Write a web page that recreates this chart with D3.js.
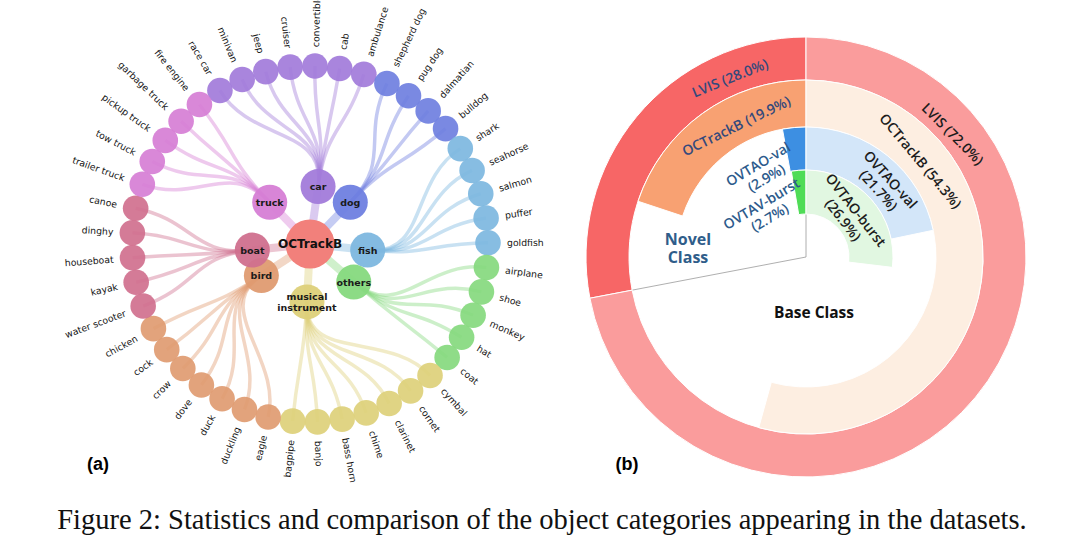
<!DOCTYPE html>
<html>
<head>
<meta charset="utf-8">
<script src="https://cdnjs.cloudflare.com/ajax/libs/d3/7.8.5/d3.min.js"></script>
<style>
  body { margin: 0; background: #fff; }
</style>
</head>
<body>
<div id="figure"></div>
<script>
// ---- data: panel (a) ----
const categories = ['car', 'dog', 'fish', 'others', 'musical instrument', 'bird', 'boat', 'truck'];
const carLeaves = ['race car', 'minivan', 'jeep', 'cruiser', 'convertible', 'cab', 'ambulance'];
const dogLeaves = ['shepherd dog', 'pug dog', 'dalmatian', 'bulldog'];
const fishLeaves = ['shark', 'seahorse', 'salmon', 'puffer', 'goldfish'];
const otherLeaves = ['airplane', 'shoe', 'monkey', 'hat', 'coat'];
const musicLeaves = ['cymbal', 'cornet', 'clarinet', 'chime', 'bass horn', 'banjo', 'bagpipe'];
const birdLeaves = ['eagle', 'duckling', 'duck', 'dove', 'crow', 'cock', 'chicken'];
const boatLeaves = ['water scooter', 'kayak', 'houseboat', 'dinghy', 'canoe'];
const truckLeaves = ['trailer truck', 'tow truck', 'pickup truck', 'garbage truck', 'fire engine'];
const leafLists = [carLeaves, dogLeaves, fishLeaves, otherLeaves, musicLeaves, birdLeaves, boatLeaves, truckLeaves];

// ---- data: panel (b) ----
const ringNames = ['LVIS', 'OCTrackB', 'OVTAO-val', 'OVTAO-burst'];
const novelNames = ['LVIS', 'OCTrackB', 'OVTAO-val', 'OVTAV-burst'];
const novelShare = [28.0, 19.9, 2.9, 2.7];
const baseShare = [72.0, 54.3, 21.7, 26.9];

// ---- layout / style ----
const catColor = {
  'car': '#a27bda', 'dog': '#6f7fe0', 'fish': '#7db7df', 'others': '#86d97e',
  'musical instrument': '#ddd079', 'bird': '#df9b71', 'boat': '#d0708e', 'truck': '#d67ed5'
};
const hubAngle = { 'car': 8, 'dog': 44, 'fish': 96, 'others': 131,
  'musical instrument': 183, 'bird': 237, 'boat': 264, 'truck': 316 };
const novelColor = ['#f76666', '#f8a172', '#3d8fe2', '#4fdc56'];
const baseColor = ['#fa9c9c', '#fdeee1', '#d3e6f9', '#e1f7e1'];
const ringRadii = [[177, 220], [130, 177], [87, 130], [43, 87]];
const novelLabelPos = [[-23, 195, -22], [-28, 149, -26], [-27, 97, -31], [-41, 62, -31]];
const baseLabelPos = [[50, 192, 45], [50, 150, 50], [47.5, 107, 48], [46, 61, 52]];

const width = 1080, height = 557;
const svg = d3.select('#figure').append('svg')
  .attr('width', width).attr('height', height);

const rad = (deg) => deg * Math.PI / 180;
const polar = (deg, r) => [r * Math.sin(rad(deg)), -r * Math.cos(rad(deg))];

// ================= panel (a) =================
const a = svg.append('g').attr('transform', 'translate(310,244)');
const R = 178, hubR = 58;

let leaves = [];
leafLists.forEach((list, ci) => list.forEach(name => leaves.push({ name: name, cat: categories[ci] })));
const angle = d3.scaleLinear().domain([0, leaves.length]).range([-30.4, 329.6]);
leaves.forEach((d, i) => { d.a = angle(i); });

const link = d3.linkRadial().angle(d => rad(d.a)).radius(d => d.r);

// center -> hub edges
a.append('g').selectAll('line').data(categories).join('line')
  .attr('x1', 0).attr('y1', 0)
  .attr('x2', d => polar(hubAngle[d], hubR)[0])
  .attr('y2', d => polar(hubAngle[d], hubR)[1])
  .attr('stroke', d => catColor[d])
  .attr('stroke-opacity', 0.4)
  .attr('stroke-width', 8);

// hub -> leaf edges
a.append('g').selectAll('path').data(leaves).join('path')
  .attr('d', d => link({ source: { a: hubAngle[d.cat], r: hubR }, target: { a: d.a, r: R } }))
  .attr('fill', 'none')
  .attr('stroke', d => catColor[d.cat])
  .attr('stroke-opacity', 0.42)
  .attr('stroke-width', 3.5);

// leaf nodes
a.append('g').selectAll('circle').data(leaves).join('circle')
  .attr('cx', d => polar(d.a, R)[0])
  .attr('cy', d => polar(d.a, R)[1])
  .attr('r', 12.8)
  .attr('fill', d => catColor[d.cat])
  .attr('fill-opacity', 0.92);

// leaf labels
a.append('g').selectAll('text').data(leaves).join('text')
  .attr('transform', d => {
    const p = polar(d.a, 197);
    const norm = ((d.a % 360) + 360) % 360;
    const rot = norm < 180 ? norm - 90 : norm + 90;
    return 'translate(' + p[0] + ',' + p[1] + ') rotate(' + rot + ')';
  })
  .attr('text-anchor', d => ((((d.a % 360) + 360) % 360) < 180 ? 'start' : 'end'))
  .attr('dominant-baseline', 'central')
  .attr('font-family', 'DejaVu Sans')
  .attr('font-size', 9.3)
  .attr('fill', '#151515')
  .text(d => d.name);

// hub nodes
const hubs = a.append('g').selectAll('g').data(categories).join('g')
  .attr('transform', d => 'translate(' + polar(hubAngle[d], hubR) + ')');
hubs.append('circle')
  .attr('r', 17.5)
  .attr('fill', d => catColor[d])
  .attr('fill-opacity', 0.95);

// root node
a.append('circle').attr('r', 24.5).attr('fill', '#f2807b');

hubs.append('text')
  .attr('text-anchor', 'middle')
  .attr('font-family', 'DejaVu Sans')
  .attr('font-weight', 'bold')
  .attr('font-size', 9.5)
  .attr('fill', '#1a1a1a')
  .selectAll('tspan')
  .data(d => d.split(' ').map((w, i, arr) => ({ w: w, dy: (i - (arr.length - 1) / 2) * 11 })))
  .join('tspan')
    .attr('x', 0)
    .attr('y', t => t.dy)
    .attr('dominant-baseline', 'central')
    .text(t => t.w);

a.append('text')
  .attr('text-anchor', 'middle')
  .attr('dominant-baseline', 'central')
  .attr('font-family', 'DejaVu Sans')
  .attr('font-weight', 'bold')
  .attr('font-size', 12)
  .attr('fill', '#111')
  .text('OCTrackB');

svg.append('text')
  .attr('x', 98).attr('y', 464)
  .attr('text-anchor', 'middle').attr('dominant-baseline', 'central')
  .attr('font-family', 'Liberation Sans').attr('font-weight', 'bold').attr('font-size', 18)
  .text('(a)');

// ================= panel (b) =================
const b = svg.append('g').attr('transform', 'translate(806,257)');

// thin separator lines
[0, -novelShare[0] * 3.6].forEach(deg => {
  const p = polar(deg, ringRadii[0][0]);
  b.append('line').attr('x1', 0).attr('y1', 0).attr('x2', p[0]).attr('y2', p[1])
    .attr('stroke', '#9a9a9a').attr('stroke-width', 0.8);
});

const arc = d3.arc();
ringNames.forEach((name, i) => {
  b.append('path')
    .attr('d', arc({ innerRadius: ringRadii[i][0], outerRadius: ringRadii[i][1],
                     startAngle: rad(-novelShare[i] * 3.6), endAngle: 0 }))
    .attr('fill', novelColor[i]).attr('stroke', '#fff').attr('stroke-width', 1);
  b.append('path')
    .attr('d', arc({ innerRadius: ringRadii[i][0], outerRadius: ringRadii[i][1],
                     startAngle: 0, endAngle: rad(baseShare[i] * 3.6) }))
    .attr('fill', baseColor[i]).attr('stroke', '#fff').attr('stroke-width', 1);
});

function ringLabel(lines, pos, color) {
  const p = polar(pos[0], pos[1]);
  const t = b.append('text')
    .attr('transform', 'translate(' + p[0] + ',' + p[1] + ') rotate(' + pos[2] + ')')
    .attr('text-anchor', 'middle')
    .attr('font-family', 'Open Sans').attr('font-weight', 600).attr('font-size', 14)
    .attr('fill', color);
  lines.forEach((l, k) => {
    t.append('tspan').attr('x', 0).attr('y', (k - (lines.length - 1) / 2) * 16)
      .attr('dominant-baseline', 'central').text(l);
  });
}

ringNames.forEach((name, i) => {
  const nLab = novelNames[i] + ' (' + novelShare[i].toFixed(1) + '%)';
  const bLab = name + ' (' + baseShare[i].toFixed(1) + '%)';
  if (i < 2) {
    ringLabel([nLab], novelLabelPos[i], '#34497c');
    ringLabel([bLab], baseLabelPos[i], '#1c1c1c');
  } else {
    ringLabel([novelNames[i], '(' + novelShare[i].toFixed(1) + '%)'], novelLabelPos[i], '#2d5b8c');
    ringLabel([name, '(' + baseShare[i].toFixed(1) + '%)'], baseLabelPos[i], '#1c1c1c');
  }
});

b.append('text')
  .attr('text-anchor', 'middle')
  .attr('font-family', 'Open Sans').attr('font-weight', 700).attr('font-size', 16)
  .attr('fill', '#2f5d8a')
  .selectAll('tspan').data(['Novel', 'Class']).join('tspan')
    .attr('x', -118).attr('y', (d, k) => -12 + k * 18)
    .text(d => d);

b.append('text')
  .attr('x', 8).attr('y', 55)
  .attr('text-anchor', 'middle').attr('dominant-baseline', 'central')
  .attr('font-family', 'Open Sans').attr('font-weight', 700).attr('font-size', 15.5)
  .attr('fill', '#111')
  .text('Base Class');

svg.append('text')
  .attr('x', 627).attr('y', 464)
  .attr('text-anchor', 'middle').attr('dominant-baseline', 'central')
  .attr('font-family', 'Liberation Sans').attr('font-weight', 'bold').attr('font-size', 18)
  .text('(b)');

// caption
svg.append('text')
  .attr('x', 542).attr('y', 529)
  .attr('text-anchor', 'middle')
  .attr('font-family', 'Liberation Serif').attr('font-size', 28.5)
  .attr('fill', '#111')
  .text('Figure 2: Statistics and comparison of the object categories appearing in the datasets.');
</script>
</body>
</html>
